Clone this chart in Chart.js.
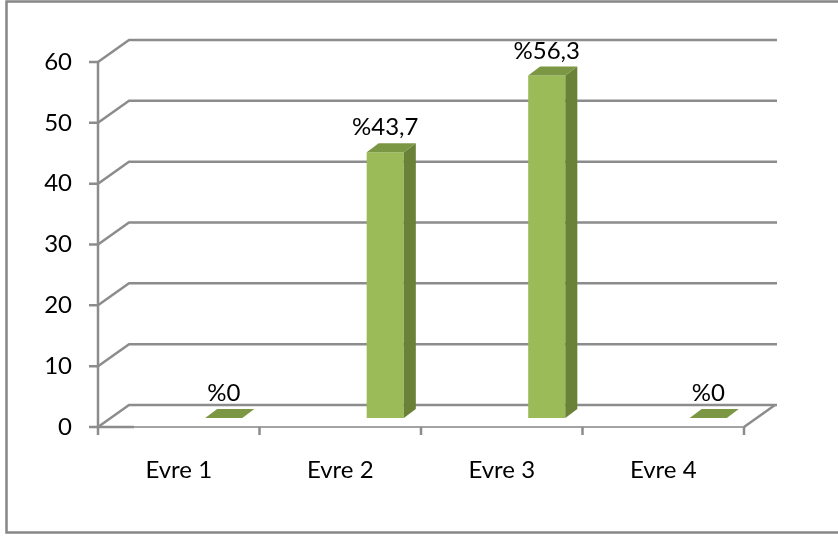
<!DOCTYPE html>
<html>
<head>
<meta charset="utf-8">
<script src="https://cdn.jsdelivr.net/npm/chart.js@4/dist/chart.umd.min.js"></script>
<style>
  html, body { margin: 0; padding: 0; background: #ffffff; }
  #wrap { width: 838px; height: 536px; position: relative; }
</style>
</head>
<body>
<div id="wrap"><canvas id="chart" width="838" height="536"></canvas></div>
<script>
// Stage shares (%)
const categories = ['Evre 1', 'Evre 2', 'Evre 3', 'Evre 4'];
const percentages = [0, 43.7, 56.3, 0];
const valueTicks = [0, 10, 20, 30, 40, 50, 60];

const FONT = 'Lato, "Open Sans", sans-serif';
const FONT_SIZE = 24;
const GRID_COLOR = '#8c8c8c';
const WALL = { dx: 31, dy: -22 };      // back wall offset
const BAR_SHIFT = { dx: 45, dy: -9 };  // bar row sits inside the floor
const BAR_DEPTH = { dx: 12, dy: -9 };  // bar extrusion
const FRONT = '#9bbb59', SIDE = '#6a8238', TOP = '#7b9743';

const frame3d = {
  id: 'frame3d',
  beforeDraw(chart) {
    const { ctx, chartArea: a, scales: { y } } = chart;
    ctx.save();
    // outer frame
    ctx.strokeStyle = '#868686';
    ctx.lineWidth = 2.5;
    ctx.strokeRect(6.5, 1.5, 900, 531);

    ctx.strokeStyle = GRID_COLOR;
    ctx.lineWidth = 2.5;
    ctx.lineJoin = 'round';
    // wall gridlines, folded back from the value axis
    valueTicks.forEach(v => {
      const py = y.getPixelForValue(v);
      ctx.beginPath();
      ctx.moveTo(a.left, py);
      ctx.lineTo(a.left + WALL.dx, py + WALL.dy);
      ctx.lineTo(a.right + WALL.dx + 2, py + WALL.dy);
      ctx.stroke();
    });
    // floor front edge and right edge
    ctx.strokeStyle = '#a4a4a4';
    ctx.lineWidth = 2;
    ctx.beginPath();
    ctx.moveTo(a.left, a.bottom);
    ctx.lineTo(a.right, a.bottom);
    ctx.stroke();
    ctx.strokeStyle = GRID_COLOR;
    ctx.lineWidth = 2.5;
    ctx.beginPath();
    ctx.moveTo(a.right, a.bottom);
    ctx.lineTo(a.right + WALL.dx, a.bottom + WALL.dy);
    ctx.stroke();
    ctx.beginPath();
    ctx.moveTo(a.left, a.bottom);
    ctx.lineTo(a.left + 36, a.bottom);
    ctx.stroke();
    // value axis line and its ticks
    ctx.beginPath();
    ctx.moveTo(a.left, y.getPixelForValue(valueTicks[valueTicks.length - 1]));
    ctx.lineTo(a.left, a.bottom + 7);
    valueTicks.forEach(v => {
      const py = y.getPixelForValue(v);
      ctx.moveTo(a.left - 9, py);
      ctx.lineTo(a.left, py);
    });
    // category boundary ticks
    const n = categories.length;
    for (let i = 0; i <= n; i++) {
      const px = a.left + i * (a.right - a.left) / n;
      ctx.moveTo(px, a.bottom);
      ctx.lineTo(px, a.bottom + 8);
    }
    ctx.stroke();
    ctx.restore();
  },
  beforeDatasetsDraw(chart) {
    chart.ctx.save();
    chart.ctx.translate(BAR_SHIFT.dx, BAR_SHIFT.dy);
  },
  afterDatasetsDraw(chart) {
    const ctx = chart.ctx;
    const meta = chart.getDatasetMeta(0);
    meta.data.forEach((bar, i) => {
      const x0 = bar.x - bar.width / 2, x1 = bar.x + bar.width / 2;
      const top = bar.y, base = bar.base;
      const { dx, dy } = BAR_DEPTH;
      // side face
      if (base - top > 0.5) {
        ctx.fillStyle = SIDE;
        ctx.beginPath();
        ctx.moveTo(x1, top);
        ctx.lineTo(x1 + dx, top + dy);
        ctx.lineTo(x1 + dx, base + dy);
        ctx.lineTo(x1, base);
        ctx.closePath();
        ctx.fill();
      }
      // top face
      ctx.fillStyle = TOP;
      ctx.beginPath();
      ctx.moveTo(x0, top);
      ctx.lineTo(x1, top);
      ctx.lineTo(x1 + dx, top + dy);
      ctx.lineTo(x0 + dx, top + dy);
      ctx.closePath();
      ctx.fill();
      // value label
      ctx.fillStyle = '#000000';
      ctx.font = FONT_SIZE + 'px ' + FONT;
      ctx.textAlign = 'center';
      ctx.textBaseline = 'alphabetic';
      const txt = '%' + String(percentages[i]).replace('.', ',');
      ctx.fillText(txt, bar.x, top - 17);
    });
    ctx.restore();
  }
};

new Chart(document.getElementById('chart'), {
  type: 'bar',
  data: {
    labels: categories,
    datasets: [{
      data: percentages,
      backgroundColor: FRONT,
      borderWidth: 0,
      categoryPercentage: 1,
      barPercentage: 0.23
    }]
  },
  options: {
    responsive: false,
    animation: false,
    devicePixelRatio: 1,
    layout: { padding: { left: 0, right: 94, top: 62, bottom: 0 } },
    plugins: { legend: { display: false }, tooltip: { enabled: false } },
    scales: {
      x: {
        grid: { display: false, drawTicks: false },
        border: { display: false },
        ticks: { color: '#000000', padding: 29, font: { family: FONT, size: FONT_SIZE } },
        afterFit(scale) { scale.height = 109; }
      },
      y: {
        min: 0,
        max: 60,
        afterBuildTicks(scale) { scale.ticks = valueTicks.map(v => ({ value: v })); },
        grid: { display: false, drawTicks: false },
        border: { display: false },
        ticks: { color: '#000000', padding: 26, font: { family: FONT, size: FONT_SIZE } },
        afterFit(scale) { scale.width = 98; }
      }
    }
  },
  plugins: [frame3d]
});
</script>
</body>
</html>
